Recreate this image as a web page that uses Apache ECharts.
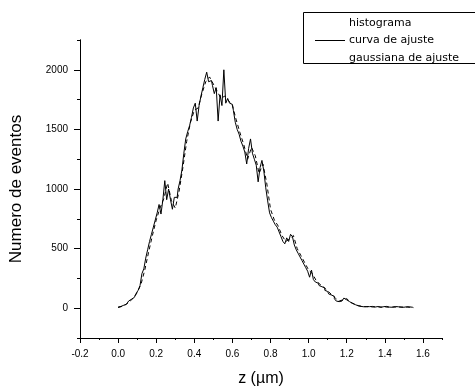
<!DOCTYPE html>
<html>
<head>
<meta charset="utf-8">
<script src="https://cdn.jsdelivr.net/npm/echarts@6/dist/echarts.min.js"></script>
<style>
  html, body { margin: 0; padding: 0; background: #fff; }
  #chart { width: 475px; height: 388px; }
</style>
</head>
<body>
<div id="chart"></div>
<script>
// Histogram of z positions: bins of 0.01 µm starting at 0.00 µm
const histStart = 0.0;
const histBinWidth = 0.01;
const histCounts = [
  10, 15, 20, 25, 35, 45, 60, 75, 90, 105,
  125, 150, 190, 290, 330, 420, 490, 560, 620, 680,
  740, 800, 870, 790, 910, 1070, 910, 1000, 910, 830,
  930, 930, 1000, 1070, 1160, 1300, 1420, 1480, 1530, 1600,
  1680, 1720, 1570, 1700, 1780, 1850, 1920, 1980, 1900, 1910,
  1870, 1800, 1850, 1570, 1790, 1700, 2000, 1720, 1760, 1720,
  1710, 1660, 1560, 1500, 1460, 1400, 1360, 1310, 1210, 1340,
  1420, 1300, 1250, 1200, 1060, 1180, 1240, 1150, 1010, 900,
  800, 760, 730, 700, 680, 640, 600, 560, 540, 590,
  560, 620, 600, 530, 490, 460, 430, 400, 370, 340,
  310, 260, 320, 240, 220, 210, 190, 180, 170, 150,
  140, 120, 110, 100, 80, 60, 55, 60, 70, 85,
  70, 55, 45, 40, 30, 25, 20, 15, 15, 12,
  14, 12, 13, 15, 12, 10, 14, 12, 8, 13,
  10, 15, 9, 12, 8, 14, 10, 12, 9, 13,
  8, 12, 10, 11, 8, 5
];

// Fitted curve sampled every 0.02 µm from 0.00 µm
const fitStart = 0.0;
const fitStep = 0.02;
const fitCounts = [
  5, 15, 30, 55, 85, 130, 200, 320, 470, 610,
  740, 840, 920, 1050, 900, 840, 980, 1180, 1400, 1560,
  1660, 1680, 1800, 1900, 1940, 1880, 1820, 1760, 1780, 1740,
  1700, 1580, 1470, 1370, 1250, 1350, 1280, 1130, 1210, 1050,
  830, 740, 690, 610, 560, 580, 610, 500, 440, 380,
  320, 290, 230, 200, 175, 145, 115, 85, 60, 70,
  80, 50, 35, 22, 15, 12, 12, 10, 12, 9,
  11, 8, 10, 9, 10, 8, 9, 7
];

const xLabelValues = [-0.2, 0.0, 0.2, 0.4, 0.6, 0.8, 1.0, 1.2, 1.4, 1.6];
const yLabelValues = [0, 500, 1000, 1500, 2000];

const legendNames = ['histograma', 'curva de ajuste', 'gaussiana de ajuste'];

const histData = histCounts.map((c, i) => [+(histStart + i * histBinWidth).toFixed(2), c]);
const fitData = fitCounts.map((c, i) => [+(fitStart + i * fitStep).toFixed(2), c]);

const axisFont = { color: '#000', fontFamily: 'Liberation Sans, Arial, sans-serif', fontSize: 10 };
const black = { color: '#000', width: 1 };

const chart = echarts.init(document.getElementById('chart'), null, { renderer: 'canvas' });

chart.setOption({
  animation: false,
  backgroundColor: '#fff',
  grid: { left: 80, right: 33, top: 40, bottom: 50, containLabel: false, outerBoundsMode: 'none' },
  xAxis: [
    {
      type: 'value', min: -0.2, max: 1.7, interval: 0.1,
      axisLine: { show: true, onZero: false, lineStyle: black },
      axisTick: { show: true, length: 5, lineStyle: black, customValues: xLabelValues },
      axisLabel: { ...axisFont, margin: 11, customValues: xLabelValues, formatter: v => v.toFixed(1) },
      splitLine: { show: false },
      name: 'z (µm)', nameLocation: 'middle', nameGap: 33,
      nameTextStyle: { color: '#000', fontFamily: 'Liberation Sans, Arial, sans-serif', fontSize: 16 }
    },
    {
      // minor ticks every 0.1 µm, sharing the bottom edge
      type: 'value', min: -0.2, max: 1.7, interval: 0.1, position: 'bottom',
      axisLine: { show: true, onZero: false, lineStyle: black },
      axisTick: { show: true, length: 2, lineStyle: black },
      axisLabel: { show: false },
      splitLine: { show: false }
    }
  ],
  yAxis: [
    {
      type: 'value', min: -250, max: 2250, interval: 250,
      axisLine: { show: true, onZero: false, lineStyle: black },
      axisTick: { show: true, length: 6, lineStyle: black, customValues: yLabelValues },
      axisLabel: { ...axisFont, margin: 12, customValues: yLabelValues, formatter: v => String(v) },
      splitLine: { show: false },
      name: 'Numero de eventos', nameLocation: 'middle', nameGap: 55, nameRotate: 90,
      nameTextStyle: { color: '#000', fontFamily: 'Liberation Sans, Arial, sans-serif', fontSize: 17 }
    },
    {
      // minor ticks every 250 events, sharing the left edge
      type: 'value', min: -250, max: 2250, interval: 250, position: 'left',
      axisLine: { show: true, onZero: false, lineStyle: black },
      axisTick: { show: true, length: 3, lineStyle: black },
      axisLabel: { show: false },
      splitLine: { show: false }
    }
  ],
  series: [
    {
      name: legendNames[0], type: 'line', step: 'middle', data: histData,
      showSymbol: false, xAxisIndex: 0, yAxisIndex: 0,
      lineStyle: { color: '#000', width: 1 }
    },
    {
      name: legendNames[1], type: 'line', data: fitData,
      showSymbol: false, xAxisIndex: 0, yAxisIndex: 0,
      lineStyle: { color: '#000', width: 1, type: [4, 3] }
    }
  ],
  graphic: [
    {
      type: 'rect', shape: { x: 303.5, y: 12.5, width: 180, height: 51 },
      style: { fill: '#fff', stroke: '#000', lineWidth: 1 }, z: 10
    },
    {
      type: 'line', shape: { x1: 315, y1: 40.5, x2: 345, y2: 40.5 },
      style: { stroke: '#000', lineWidth: 1 }, z: 11
    },
    {
      type: 'text', left: 349, top: 18, z: 11,
      style: { text: legendNames[0], fill: '#000', font: '11px "DejaVu Sans", sans-serif' }
    },
    {
      type: 'text', left: 349, top: 35, z: 11,
      style: { text: legendNames[1], fill: '#000', font: '11px "DejaVu Sans", sans-serif' }
    },
    {
      type: 'text', left: 349, top: 53, z: 11,
      style: { text: legendNames[2], fill: '#000', font: '11px "DejaVu Sans", sans-serif' }
    }
  ]
});
</script>
</body>
</html>
